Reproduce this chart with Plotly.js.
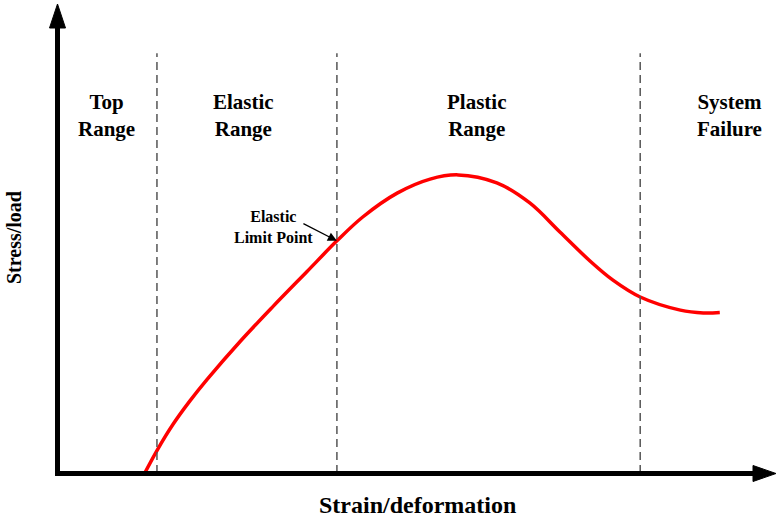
<!DOCTYPE html>
<html>
<head>
<meta charset="utf-8">
<script src="https://cdn.plot.ly/plotly-3.0.1.min.js"></script>
<style>
  html, body { margin: 0; padding: 0; background: #fff; }
  #chart { width: 780px; height: 517px; }
</style>
</head>
<body>
<div id="chart"></div>
<script>
// stress/strain curve (arbitrary 0-100 units)
var strain = [12.1, 13.8, 16.0, 18.4, 20.8, 25.4, 30.0, 34.7, 38.9, 42.5, 47.3, 51.9, 55.8,
  61.2, 65.8, 70.0, 74.2, 77.4, 81.2, 86.8, 90.0, 92.3];
var stress = [0, 4.8, 10.3, 15.4, 20.0, 28.1, 35.6, 43.0, 49.6, 54.7, 59.8, 62.8, 63.7,
  62.0, 57.7, 51.5, 45.3, 41.2, 37.6, 34.8, 34.2, 34.3];

// region boundaries
var boundaries = [13.8, 38.9, 81.2];
var boundaryTop = 89.7;

// region labels
var regionNames = ["Top<br>Range", "Elastic<br>Range", "Plastic<br>Range", "System<br>Failure"];
var regionCenters = [6.8, 25.9, 58.3, 93.7];
var regionLabelY = 76.3;

// elastic limit point
var limitPoint = { x: 38.9, y: 49.6 };

var serif = "Liberation Serif, Times New Roman, serif";

// plot area in pixels: x 58..775, y 5..473
function px(x) { return (x - 58) / 717; }
function py(y) { return (473 - y) / 468; }

var trace = {
  x: strain,
  y: stress,
  type: "scatter",
  mode: "lines",
  line: { color: "rgb(255,0,0)", width: 3.5, shape: "spline", smoothing: 1 },
  hoverinfo: "none",
};

var shapes = [];
boundaries.forEach(function (b) {
  shapes.push({
    type: "line", xref: "x", yref: "y",
    x0: b, x1: b, y0: 0, y1: boundaryTop,
    line: { color: "rgb(85,85,85)", width: 1.5, dash: "8px,5px" },
  });
});

// axes with arrowheads
shapes.push({
  type: "line", xref: "paper", yref: "paper",
  x0: px(57.5), x1: px(57.5), y0: py(476), y1: py(24),
  line: { color: "black", width: 5 },
});
shapes.push({
  type: "line", xref: "paper", yref: "paper",
  x0: px(55), x1: px(757), y0: py(473.5), y1: py(473.5),
  line: { color: "black", width: 5 },
});
shapes.push({
  type: "path", xref: "paper", yref: "paper",
  path: "M " + px(49.5) + " " + py(28) + " L " + px(65.5) + " " + py(28) +
    " L " + px(57.5) + " " + py(4) + " Z",
  fillcolor: "black", line: { color: "black", width: 1 },
});
shapes.push({
  type: "path", xref: "paper", yref: "paper",
  path: "M " + px(753) + " " + py(465.5) + " L " + px(753) + " " + py(481.5) +
    " L " + px(776) + " " + py(473.5) + " Z",
  fillcolor: "black", line: { color: "black", width: 1 },
});

var annotations = [];
regionNames.forEach(function (name, i) {
  annotations.push({
    x: regionCenters[i], y: regionLabelY, xref: "x", yref: "y",
    text: name, showarrow: false,
    font: { family: serif, size: 21, color: "black", weight: "bold" },
  });
});

annotations.push({
  x: 30.1, y: 52.6, xref: "x", yref: "y",
  text: "Elastic<br>Limit Point", showarrow: false,
  font: { family: serif, size: 16, color: "black", weight: "bold" },
});
annotations.push({
  x: limitPoint.x, y: limitPoint.y, xref: "x", yref: "y",
  text: "", showarrow: true, ax: -35, ay: -18,
  arrowhead: 2, arrowsize: 1.4, arrowwidth: 1.3, arrowcolor: "black",
});

// axis titles
annotations.push({
  x: px(417), y: py(505), xref: "paper", yref: "paper",
  xanchor: "center", yanchor: "middle",
  text: "Strain/deformation", showarrow: false,
  font: { family: serif, size: 24, color: "black", weight: "bold" },
});
annotations.push({
  x: px(14), y: py(238), xref: "paper", yref: "paper",
  xanchor: "center", yanchor: "middle",
  text: "Stress/load", showarrow: false, textangle: -90,
  font: { family: serif, size: 20, color: "black", weight: "bold" },
});

var layout = {
  width: 780,
  height: 517,
  margin: { l: 58, r: 5, t: 5, b: 44 },
  paper_bgcolor: "white",
  plot_bgcolor: "white",
  showlegend: false,
  xaxis: {
    range: [0, 100], showgrid: false, zeroline: false,
    showticklabels: false, ticks: "", showline: false,
  },
  yaxis: {
    range: [0, 100], showgrid: false, zeroline: false,
    showticklabels: false, ticks: "", showline: false,
  },
  shapes: shapes,
  annotations: annotations,
};

Plotly.newPlot("chart", [trace], layout, { displayModeBar: false, staticPlot: true });
</script>
</body>
</html>
